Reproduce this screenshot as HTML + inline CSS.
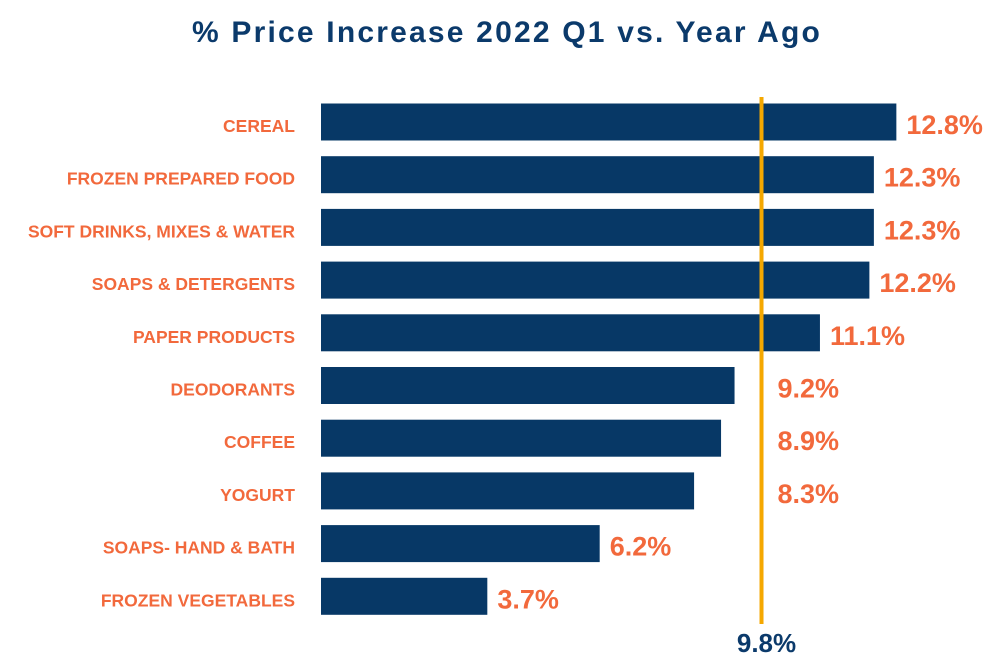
<!DOCTYPE html>
<html><head><meta charset="utf-8"><style>
body{margin:0;background:#fff;width:1000px;height:664px;overflow:hidden;font-family:"Liberation Sans",Arial,sans-serif}
</style></head><body>
<svg id="chart" width="1000" height="664">
<text x="507" y="42" text-anchor="middle" font-size="30" letter-spacing="2.2" font-weight="bold" fill="#0b3a6b">% Price Increase 2022 Q1 vs. Year Ago</text>
</svg>
<script>
const categories=["CEREAL","FROZEN PREPARED FOOD","SOFT DRINKS, MIXES & WATER","SOAPS & DETERGENTS","PAPER PRODUCTS","DEODORANTS","COFFEE","YOGURT","SOAPS- HAND & BATH","FROZEN VEGETABLES"];
const values=[12.8,12.3,12.3,12.2,11.1,9.2,8.9,8.3,6.2,3.7];
const reference=9.8;
const svg=document.getElementById('chart');
const NS='http://www.w3.org/2000/svg';
const x0=321,pxPer=44.95;
const xs=v=>x0+v*pxPer;
const rowY=i=>122+i*52.7;
const barH=37;
const lx=xs(reference);
function mk(t,a){const e=document.createElementNS(NS,t);for(const k in a)e.setAttribute(k,a[k]);svg.appendChild(e);return e;}
values.forEach((v,i)=>{
  const cy=rowY(i);
  const r=mk('rect',{x:x0,y:cy-barH/2,width:xs(v)-x0,height:barH,fill:'#073866'});
  
  
  const c=mk('text',{x:295,y:cy+10,'text-anchor':'end','font-size':17.5,'font-weight':'bold',fill:'#f2693c'});
  c.textContent=categories[i];
  
  
  const end=xs(v);
  let tx=end+10;
  if(end<lx && tx+78>lx) tx=lx+16;
  const t=mk('text',{x:tx,y:cy+12,'font-size':27,'font-weight':'bold',fill:'#f2693c'});
  t.textContent=v.toFixed(1)+'%';
  
  
});
const ln=mk('rect',{x:lx-2,y:97,width:4,height:527,fill:'#f5a800'});


const lt=mk('text',{x:lx+5,y:652,'text-anchor':'middle','font-size':26,'font-weight':'bold',fill:'#0b3a6b'});
lt.textContent=reference.toFixed(1)+'%';


</script>
</body></html>
